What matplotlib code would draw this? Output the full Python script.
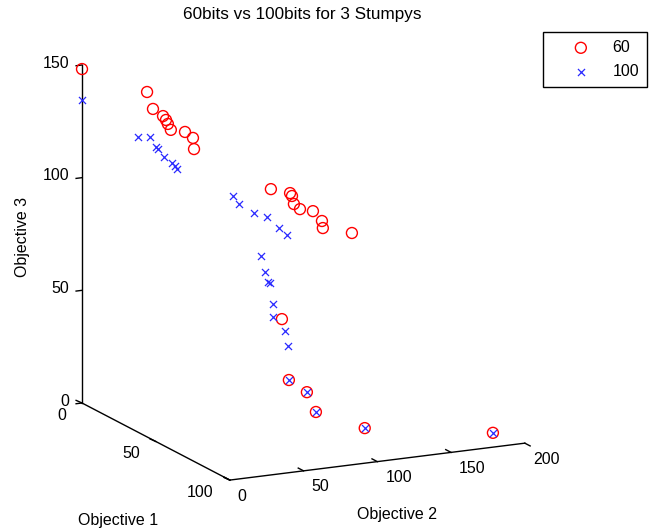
import numpy as np
import matplotlib
matplotlib.use('Agg')
import matplotlib.pyplot as plt

plt.rcParams['font.family'] = ['Liberation Sans', 'DejaVu Sans']
FS = 11.5

# ---- data: 60 bits (red circles) ----
obj1_60 = [0.0, 5.4, 9.3, 11.0, 11.9, 12.8, 14.2, 14.7, 16.1, 18.7, 28.0, 29.0, 29.7,
           31.5, 32.7, 33.2, 35.5, 37.1, 38.3, 58.4, 72.6, 75.4, 80.1, 83.8, 85.0]
obj2_60 = [0.0, 38.7, 38.8, 43.9, 45.0, 45.4, 46.0, 55.1, 59.1, 57.2, 100.0, 112.0, 112.6,
           112.1, 115.0, 123.3, 127.1, 126.1, 144.6, 77.0, 67.5, 76.9, 78.3, 107.7, 193.4]
obj3_60 = [148.2, 136.7, 130.5, 127.5, 126.0, 124.5, 122.3, 120.8, 118.3, 114.4, 96.3, 93.9, 92.8,
           89.9, 87.8, 86.4, 82.5, 80.0, 76.7, 50.9, 29.5, 24.3, 17.0, 8.7, 0.0]

# ---- data: 100 bits (blue crosses) ----
obj1_100 = [0.0, 15.9, 15.9, 18.2, 18.7, 20.5, 22.0, 22.7, 23.4, 29.7, 31.5, 33.6, 34.6, 37.1,
            38.8, 43.7, 47.4, 49.7, 50.0, 54.9, 57.9, 61.2, 64.7, 72.6, 75.4, 80.1, 83.8, 85.0]
obj2_100 = [0.0, 22.0, 30.2, 31.9, 32.8, 35.0, 39.0, 40.3, 41.0, 72.6, 74.8, 82.9, 90.7, 96.3,
            100.1, 77.5, 76.5, 76.2, 77.3, 74.4, 71.4, 76.2, 74.8, 67.5, 76.9, 78.3, 107.7, 193.4]
obj3_100 = [134.5, 121.7, 121.0, 117.2, 116.4, 113.3, 110.8, 109.6, 108.5, 96.1, 93.0, 89.0, 86.9, 82.5,
            79.6, 73.8, 68.1, 64.4, 64.0, 56.6, 52.1, 46.6, 41.3, 29.5, 24.3, 17.0, 8.7, 0.0]

series_labels = ['60', '100']
obj1_ticks = [0, 50, 100]
obj2_ticks = [0, 50, 100, 150, 200]
obj3_ticks = [0, 50, 100, 150]
title = '60bits vs 100bits for 3 Stumpys'

W, H = 664, 529
fig = plt.figure(figsize=(W/100, H/100), dpi=100)
ax = fig.add_axes([0, 0, 1, 1], projection='3d', computed_zorder=False)
ax.set_proj_type('ortho')
ax.view_init(elev=14.8, azim=-26.1)
ASPECT = (336, 328.5, 349.6)
ax.set_box_aspect(ASPECT, zoom=1.0)
ax.set_xlim(0, 100); ax.set_ylim(0, 200); ax.set_zlim(0, 150)
ax.set_axis_off()

def to_px(x, y, z):
    M = ax.get_proj()
    x = np.atleast_1d(np.asarray(x, float)); y = np.atleast_1d(np.asarray(y, float)); z = np.atleast_1d(np.asarray(z, float))
    v = M @ np.vstack([x, y, z, np.ones_like(x)])
    xs, ys = v[0]/v[3], v[1]/v[3]
    d = ax.transData.transform(np.column_stack([xs, ys]))
    return d[:, 0], H - d[:, 1]

# calibrate scale and placement of the 3D box
fig.canvas.draw()
_, pz = to_px([0, 0], [0, 0], [0, 150])
zoom = 338.0/(pz[0]-pz[1])
ax.set_box_aspect(ASPECT, zoom=zoom)
fig.canvas.draw()
ox, oy = to_px(0, 0, 0)
ax.set_position([(82-ox[0])/W, (oy[0]-403)/H, 1, 1])
fig.canvas.draw()

sr = ax.scatter(obj1_60, obj2_60, obj3_60, marker='o', s=62, facecolors='none', edgecolors='red',
                linewidths=1.0, depthshade=False, zorder=2, clip_on=False)
sb = ax.scatter(obj1_100, obj2_100, obj3_100, marker='x', s=26, color='#2a2aff', linewidths=0.9,
                depthshade=False, zorder=3, clip_on=False)

kw = dict(color='black', lw=1.0, clip_on=False, zorder=1)
ax.plot([0, 0], [0, 0], [0, 150], **kw)
ax.plot([0, 100], [0, 0], [0, 0], **kw)
ax.plot([100, 100], [0, 200], [0, 0], **kw)
for t in obj3_ticks:
    ax.plot([0, 0], [0, -4], [t, t], **kw)
for t in obj1_ticks:
    ax.plot([t, t], [0, -4], [0, 1.5], **kw)
for t in obj2_ticks:
    ax.plot([100, 103.6 if t == 200 else 96.4], [t, t], [0, 0], **kw)

def ftext(x, y, s, size=FS, **k):
    fig.text(x/W, 1 - y/H, s, fontsize=size, **k)

n = len(obj3_ticks)
px, py = to_px(np.zeros(n), np.zeros(n), obj3_ticks)
for t, x, y in zip(obj3_ticks, px, py):
    ftext(x - 13, y - 2, str(t), ha='right', va='center')
n = len(obj1_ticks)
px, py = to_px(obj1_ticks, np.zeros(n), np.zeros(n))
for t, x, y in zip(obj1_ticks, px, py):
    ftext(x - 16, y + 12, str(t), ha='right', va='center')
n = len(obj2_ticks)
px, py = to_px(np.full(n, 100.0), obj2_ticks, np.zeros(n))
for t, x, y in zip(obj2_ticks, px, py):
    ftext(x + 8, y + 16, str(t), ha='left', va='center')

ftext(118, 520, 'Objective 1', ha='center', va='center')
ftext(397, 515, 'Objective 2', ha='center', va='center')
ftext(23, 237, 'Objective 3', ha='center', va='center', rotation=90)
ftext(302, 15, title, size=12.3, ha='center', va='center')

leg = fig.legend(handles=[sr, sb], labels=series_labels, loc='upper right',
                 bbox_to_anchor=(647/W, 1 - 32/H), borderaxespad=0, frameon=True, fancybox=False,
                 edgecolor='black', framealpha=1, borderpad=0.5, handlelength=3.75,
                 handletextpad=0.1, labelspacing=0.55, fontsize=FS, scatterpoints=1)
leg.get_frame().set_linewidth(1.0)

fig.savefig('out.png', dpi=100)
